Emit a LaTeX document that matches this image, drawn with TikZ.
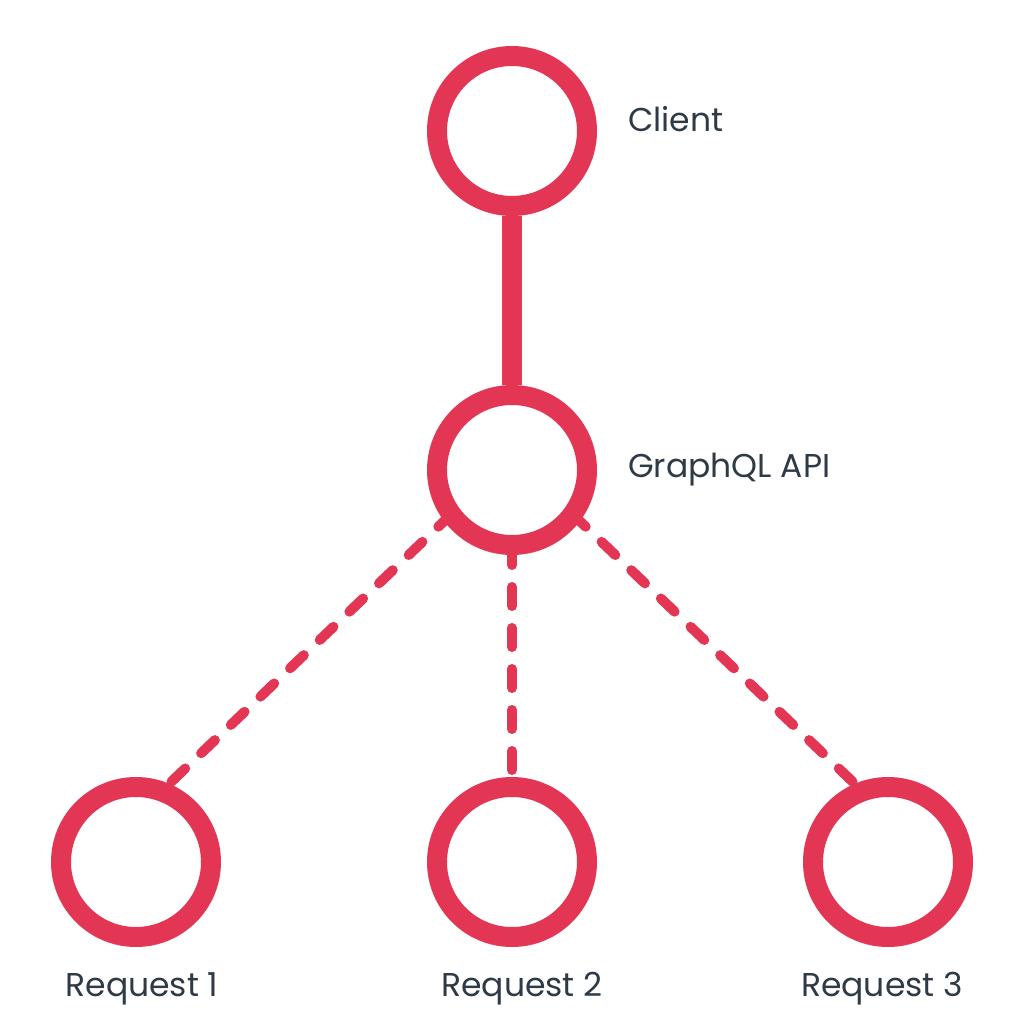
\documentclass[tikz,border=0pt]{standalone}
\usepackage{fontspec}
\setmainfont{Poppins}
\usetikzlibrary{positioning}
\definecolor{ringred}{HTML}{E33554}
\definecolor{labelgray}{HTML}{2E3A46}

\begin{document}
\begin{tikzpicture}[
  ring/.style={circle, draw=ringred, fill=white, line width=20pt,
               minimum size=150pt, inner sep=0pt},
  lbl/.style={text=labelgray, font=\fontsize{33}{40}\selectfont,
              inner sep=0pt, text height=24pt, text depth=0pt},
  link/.style={draw=ringred, line width=20pt},
  call/.style={draw=ringred, line width=10pt, line cap=round,
               dash pattern=on 19pt off 22pt}]
  \useasboundingbox (-512pt,131pt) rectangle (512pt,-893pt);
  % client and api (middle column)
  \node[ring] (client) {};
  \node[ring, below=169pt of client] (api) {};
  % requests (bottom row)
  \node[ring, below=222pt of api] (req2) {};
  \node[ring, left=206pt of req2] (req1) {};
  \node[ring, right=206pt of req2] (req3) {};
  % labels
  \node[lbl, right=31pt of client, yshift=11pt] (clientlbl) {Client};
  \node[lbl, right=31pt of api, yshift=5pt] (apilbl) {GraphQL API};
  \node[lbl, below=25pt of req1, xshift=6pt] (req1lbl) {Request 1};
  \node[lbl, below=25pt of req2, xshift=10pt] (req2lbl) {Request 2};
  \node[lbl, below=25pt of req3, xshift=-6pt] (req3lbl) {Request 3};
  % edges
  \draw[link] (client) -- (api);
  \draw[call, dash phase=11pt] (api.-143) -- (req1.67);
  \draw[call, dash phase=9pt] (api) -- (req2);
  \draw[call, dash phase=11pt] (api.-37) -- (req3.113);
\end{tikzpicture}
\end{document}
